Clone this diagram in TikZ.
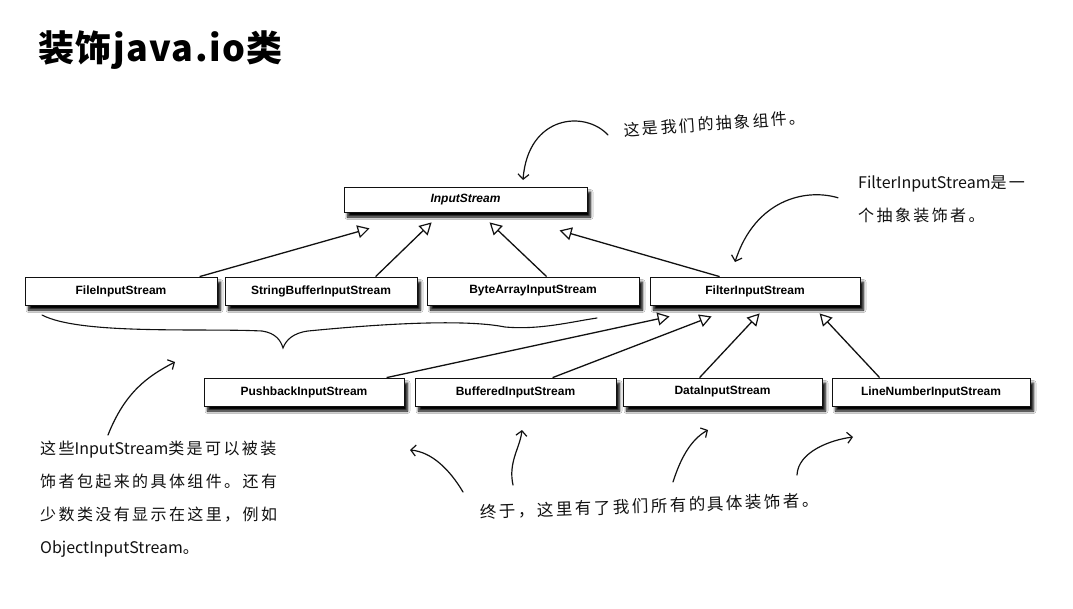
\documentclass[tikz,border=0pt]{standalone}
\usepackage{fontspec}
\setmainfont{Liberation Sans}
\newfontfamily\cjk{Noto Sans CJK SC}
\newfontfamily\cjkwide{Noto Sans CJK SC}[LetterSpace=15]
\usepackage{tikz}
\usetikzlibrary{arrows.meta,positioning,calc,shadows.blur}
\definecolor{ink}{HTML}{111111}
\newcommand{\lat}[1]{{\cjk #1}}

\tikzset{
  cls/.style={draw=ink, fill=white, line width=0.8pt, minimum height=28pt, inner sep=0pt,
    font=\bfseries\fontsize{12}{14}\selectfont,
    blur shadow={shadow xshift=3.5pt, shadow yshift=-5pt, shadow blur steps=6,
      shadow blur radius=2.5pt, shadow opacity=100}},
  inherit/.style={ink, line width=1.3pt, -{Triangle[open,length=12pt,width=13pt,line width=1.2pt]}},
  note/.style={font=\cjkwide\fontsize{16}{33}\selectfont, align=left, inner sep=0pt, text=ink},
  pointer/.style={ink, line width=1.2pt, line cap=round, -{Straight Barb[length=5pt,width=11pt,line width=1.2pt]}},
}

\begin{document}
\begin{tikzpicture}[x=1pt,y=-1pt]
  \useasboundingbox (0,0) rectangle (1073,608);
  \fill[white] (0,0) rectangle (1073,608);

  % title
  \node[anchor=west, inner sep=0pt, font=\cjk\bfseries\fontsize{36}{40}\selectfont\addfontfeatures{LetterSpace=4}] (title) at (38,50) {装饰java.io类};

  % classes
  \node[cls, minimum width=243pt, minimum height=25pt, font=\bfseries\itshape\fontsize{12}{14}\selectfont] (input) at (465.5,199.5) {InputStream};
  \node[cls, minimum width=192pt] (file) at (121,291) {FileInputStream};
  \node[cls, minimum width=192pt] (sbuf) at (321,291) {StringBufferInputStream};
  \node[cls, minimum width=212pt] (bytes) at (533,291) {ByteArrayInputStream};
  \node[cls, minimum width=210pt] (filter) at (755,291) {FilterInputStream};
  \node[cls, minimum width=200pt] (push) at (304,392) {PushbackInputStream};
  \node[cls, minimum width=201pt] (buf) at (515.5,392) {BufferedInputStream};
  \node[cls, minimum width=199pt] (data) at (722.5,392) {DataInputStream};
  \node[cls, minimum width=198pt] (line) at (931,392) {LineNumberInputStream};

  % subclass links
  \draw[inherit] ($(file.north west)+(175,0)$) -- ($(input.south west)+(26,16)$);
  \draw[inherit] ($(sbuf.north west)+(151,0)$) -- ($(input.south west)+(88,10)$);
  \draw[inherit] ($(bytes.north west)+(120,0)$) -- ($(input.south west)+(146,10)$);
  \draw[inherit] ($(filter.north west)+(70,0)$) -- ($(input.south west)+(216,18)$);
  \draw[inherit] ($(push.north west)+(183,0)$) -- ($(filter.south west)+(20,11)$);
  \draw[inherit] ($(buf.north west)+(138,0)$) -- ($(filter.south west)+(62,11)$);
  \draw[inherit] ($(data.north west)+(77,0)$) -- ($(filter.south west)+(110,8)$);
  \draw[inherit] ($(line.north west)+(48,0)$) -- ($(filter.south west)+(170,8)$);

  % notes
  \node[note, anchor=west, rotate=4] (abs) at (624,130) {这是我们的抽象组件。};
  \node[note, anchor=north west] (fnote) at (858,176) {\lat{FilterInputStream}是一\\个抽象装饰者。};
  \node[note, anchor=north west] (lnote) at (40,441) {这些\lat{InputStream}类是可以被装\\饰者包起来的具体组件。还有\\少数类没有显示在这里，例如\\\lat{ObjectInputStream}。};
  \node[note, anchor=west, rotate=2, font=\cjkwide\fontsize{16.5}{20}\selectfont] (bnote) at (480,512) {终于，这里有了我们所有的具体装饰者。};

  % hand drawn pointers
  \coordinate (absend) at (523,180);
  \coordinate (fend) at (735,262);
  \coordinate (bracetip) at (175,362);
  \draw[pointer] ($(abs.west)+(-16,5)$) .. controls (585,110) and (528,115) .. (absend);
  \draw[pointer] ($(fnote.west)+(-20,-2)$) .. controls (805,188) and (755,200) .. (fend);
  \draw[pointer] ($(lnote.north west)+(68,-6)$) .. controls (125,392) and (148,376) .. (bracetip);
  \draw[pointer] (463,492) .. controls (450,470) and (432,452) .. (410,450);
  \draw[pointer] (513,485) .. controls (508,462) and (520,448) .. (522,430);
  \draw[pointer] (673,482) .. controls (680,460) and (690,440) .. (708,430);
  \draw[pointer] (797,475) .. controls (798,452) and (830,440) .. (853,437);

  % brace under the concrete streams
  \draw[ink, line width=1.1pt, line cap=round]
    (42,315) .. controls (80,335) and (200,328) .. (262,331)
    .. controls (276,333) and (281,341) .. (283,348)
    .. controls (286,340) and (293,333) .. (308,331)
    .. controls (400,322) and (470,320) .. (505,327)
    .. controls (540,330) and (570,322) .. (597,318);
\end{tikzpicture}
\end{document}
